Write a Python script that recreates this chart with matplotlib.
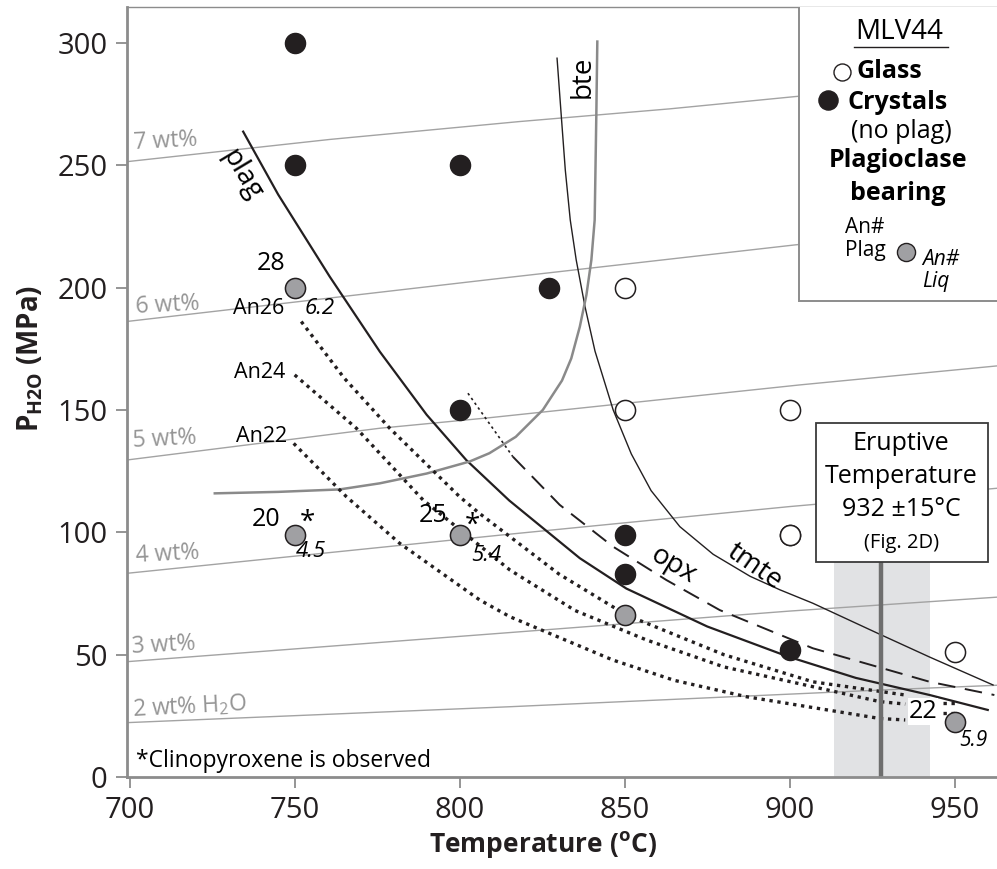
import matplotlib
matplotlib.use("Agg")
import matplotlib.pyplot as plt
from matplotlib.patches import Rectangle

plt.rcParams['font.family'] = ['Open Sans', 'DejaVu Sans']
plt.rcParams['mathtext.fontset'] = 'custom'
plt.rcParams['mathtext.rm'] = 'Open Sans'
plt.rcParams['mathtext.it'] = 'Open Sans:italic'
plt.rcParams['mathtext.bf'] = 'Open Sans:bold'

# ---------------- data ----------------
x_ticks = [700, 750, 800, 850, 900, 950]
y_ticks = [0, 50, 100, 150, 200, 250, 300]

# water isopleths (T, P)
iso_labels = ["7 wt%", "6 wt%", "5 wt%", "4 wt%", "3 wt%", "2 wt% H$_2$O"]
iso_T = [
    [699, 760.6, 818, 863.6, 901.5, 963],
    [699, 810, 901.5, 963],
    [699, 775.8, 809, 903, 963],
    [699, 815, 900, 963],
    [699, 815, 900, 963],
    [699, 815, 927, 963],
]
iso_P = [
    [251.4, 260.5, 267.8, 273.0, 278.0, 286.0],
    [186.1, 203.4, 217.4, 226.0],
    [129.5, 142.5, 146.8, 160.2, 168.0],
    [83.2, 99.2, 110.5, 118.0],
    [47.1, 59.0, 67.8, 73.5],
    [22.2, 28.7, 35.5, 37.5],
]

# phase boundaries
plag_T = [734.4, 745, 760.6, 775.8, 790, 802, 815, 836.4, 850.5, 875, 899.5, 920, 942.4, 960]
plag_P = [263.7, 238, 204.5, 173.8, 148, 129.5, 113, 89.4, 77.0, 61.5, 49.2, 40.5, 33.5, 27.4]

tmte_T = [829.5, 830.8, 832, 833.5, 835.3, 838, 841, 846.5, 852, 858, 866.7, 876.8, 888, 897, 907, 927, 942.4, 961.6]
tmte_P = [293.7, 269.8, 248, 227.6, 211.3, 192, 174, 150.0, 132, 117, 102.3, 91.0, 82.0, 76.5, 71.0, 58.5, 49.0, 37.6]

bte_T = [725.8, 745, 763.6, 775.8, 790, 803, 809, 817, 825.2, 831, 833.8, 836.4, 838.4, 839.9, 840.9, 841.4, 841.7]
bte_P = [115.9, 116.5, 117.5, 120.0, 124, 128.9, 132.3, 139, 150.0, 162, 171, 184.0, 197, 211.3, 227.6, 270.5, 300.5]

opx_start_T = [802.5, 816.1]
opx_start_P = [156.8, 130.9]
opx_T = [816.1, 830.3, 846.5, 862.6, 878.8, 907, 942.4, 962]
opx_P = [130.9, 111.2, 94.1, 80.5, 68.2, 52.6, 38.9, 33.5]

an26_T = [752, 765, 778.8, 800, 806, 830, 850.5, 880, 907, 935]
an26_P = [186.1, 163, 142.5, 114.5, 107.7, 83, 66.2, 50, 38.9, 33.5]
an24_T = [750, 768.7, 788.9, 815.2, 835, 856.6, 880, 907, 927.3, 935]
an24_P = [164.3, 142.5, 113.2, 84.6, 68, 56.0, 45, 36.9, 30.8, 29.8]
an22_T = [749.7, 765.7, 781.8, 806, 815.2, 846.4, 865, 886.9, 927.3, 935]
an22_P = [136.3, 114.5, 95.5, 72.4, 65.5, 47.8, 39.5, 32.8, 23.9, 23.3]
an_tail_T = [[946.5, 950.5], [946.5, 950.5]]
an_tail_P = [[30.2, 30.2], [26.0, 26.0]]

# experiments
glass_T = [850, 850, 900, 900, 900, 950]
glass_P = [200, 150, 150, 99, 99, 51.2]
cryst_T = [750, 750, 800, 827, 800, 850, 850, 900]
cryst_P = [300, 250, 250, 200, 150, 99, 83, 52]
plagb_T = [750, 750, 800, 850, 950]
plagb_P = [200, 99, 99, 66, 22.6]

# eruptive temperature
erupt_T = 927.7
erupt_lo = 913.4
erupt_hi = 942.4

# ---------------- figure ----------------
fig = plt.figure(figsize=(9.97, 8.69), dpi=100)
ax = fig.add_axes([127 / 997, 92 / 869, 870 / 997, 769.7 / 869])
ax.set_xlim(699.2, 962.8)
ax.set_ylim(0, 314.5)

ISO = '#a3a3a3'

# eruptive band + line
box_bot = 88
ax.add_patch(Rectangle((erupt_lo, 0), erupt_hi - erupt_lo, box_bot, facecolor='#e1e2e4',
                       edgecolor='none', zorder=0.5))
ax.plot([erupt_T, erupt_T], [0, box_bot], color='#6e6e6e', lw=3.2, zorder=2.5, solid_capstyle='butt')

# isopleths
for T, P in zip(iso_T, iso_P):
    ax.plot(T, P, color=ISO, lw=1.0, zorder=1)

iso_lab_pos = [(701.0, 259.6), (701.5, 192.9), (700.8, 138.0), (701.5, 91.1), (700.5, 53.7), (700.5, 28.7)]
for lab, (tx, ty) in zip(iso_labels, iso_lab_pos):
    ax.text(tx, ty, lab, color='#959595', fontsize=16.5, ha='left', va='center', rotation=3, zorder=1.5)

# curves
ax.plot(plag_T, plag_P, color='#231f20', lw=1.6, zorder=2)
ax.plot(tmte_T, tmte_P, color='#231f20', lw=1.0, zorder=2)
ax.plot(bte_T, bte_P, color='#8a8a8a', lw=1.8, zorder=2)
ax.plot(opx_start_T, opx_start_P, color='#231f20', lw=1.2, linestyle=(0, (1.5, 2.0)), zorder=2)
ax.plot(opx_T, opx_P, color='#231f20', lw=1.4, linestyle=(0, (9, 5)), zorder=2)

dot = (0, (1.0, 1.4))
for T, P in [(an26_T, an26_P), (an24_T, an24_P), (an22_T, an22_P)]:
    ax.plot(T, P, color='#231f20', lw=2.4, linestyle=dot, dash_capstyle='butt', zorder=2)
for T, P in zip(an_tail_T, an_tail_P):
    ax.plot(T, P, color='#231f20', lw=2.4, linestyle=dot, dash_capstyle='butt', zorder=2)

# points
ms = 210
ax.scatter(glass_T, glass_P, s=ms, facecolor='white', edgecolor='#231f20', linewidth=1.1, zorder=3)
ax.scatter(cryst_T, cryst_P, s=ms, facecolor='#231f20', edgecolor='#231f20', linewidth=1.0, zorder=3)
ax.scatter(plagb_T, plagb_P, s=ms, facecolor='#a0a0a3', edgecolor='#231f20', linewidth=1.1, zorder=3)

# curve labels
ax.text(734.0, 246.0, 'plag', fontsize=20, rotation=-59, ha='center', va='center', rotation_mode='anchor', zorder=4)
ax.text(837.4, 286.0, 'bte', fontsize=20, rotation=90, ha='center', va='center', rotation_mode='anchor', zorder=4)
ax.text(864.6, 86.6, 'opx', fontsize=20, rotation=-31, ha='center', va='center', rotation_mode='anchor', zorder=4)
ax.text(889.4, 85.9, 'tmte', fontsize=20, rotation=-35, ha='center', va='center', rotation_mode='anchor', zorder=4)

# point labels
ax.text(742.9, 210.0, '28', fontsize=18, ha='center', va='center', zorder=4)
ax.text(739.0, 191.5, 'An26', fontsize=15.5, ha='center', va='center', zorder=4)
ax.text(757.5, 191.5, '6.2', fontsize=16, style='italic', ha='center', va='center', zorder=4)
ax.text(739.4, 165.2, 'An24', fontsize=15.5, ha='center', va='center', zorder=4)
ax.text(739.9, 139.0, 'An22', fontsize=15.5, ha='center', va='center', zorder=4)
ax.text(741.4, 105.3, '20', fontsize=18, ha='center', va='center', zorder=4)
ax.text(754.0, 104.0, '*', fontsize=20, ha='center', va='center', zorder=4)
ax.text(755.0, 92.0, '4.5', fontsize=16, style='italic', ha='center', va='center', zorder=4)
ax.text(791.9, 107.0, '25', fontsize=18, ha='center', va='center', zorder=4)
ax.text(804.0, 102.5, '*', fontsize=20, ha='center', va='center', zorder=4)
ax.text(808.0, 90.7, '5.4', fontsize=16, style='italic', ha='center', va='center', zorder=4)
ax.text(940.4, 26.7, '22', fontsize=18, ha='center', va='center', zorder=4,
        bbox=dict(facecolor='white', edgecolor='none', pad=0.5))
ax.text(955.5, 15.1, '5.9', fontsize=15, style='italic', ha='center', va='center', zorder=4)
ax.text(702.0, 6.5, '*Clinopyroxene is observed', fontsize=16.5, ha='left', va='center', zorder=4)

# eruptive box
ax.add_patch(Rectangle((907.9, 88.0), 52.2, 56.5, facecolor='white', edgecolor='#3a3a3a', lw=1.3, zorder=4))
ax.text(933.8, 136.4, 'Eruptive', fontsize=18, ha='center', va='center', zorder=5)
ax.text(933.8, 122.7, 'Temperature', fontsize=18, ha='center', va='center', zorder=5)
ax.text(933.8, 109.1, '932 \u00b115\u00b0C', fontsize=18, ha='center', va='center', zorder=5)
ax.text(933.8, 95.5, '(Fig. 2D)', fontsize=14.5, ha='center', va='center', zorder=5)

# legend box
ax.add_patch(Rectangle((902.7, 194.5), 70, 130, facecolor='white', edgecolor='#8c8c8c', lw=1.4,
                       zorder=4, clip_on=True))
ax.text(933.3, 304.6, 'MLV44', fontsize=20, ha='center', va='center', zorder=5)
ax.plot([919.5, 948.0], [298.4, 298.4], color='#231f20', lw=1.0, zorder=5)
ax.scatter([915.7], [288.2], s=150, facecolor='white', edgecolor='#231f20', linewidth=1.0, zorder=5)
ax.text(920.3, 288.2, 'Glass', fontsize=18, fontweight='bold', ha='left', va='center', zorder=5)
ax.scatter([911.6], [276.7], s=190, facecolor='#231f20', edgecolor='#231f20', zorder=5)
ax.text(917.4, 275.5, 'Crystals', fontsize=18, fontweight='bold', ha='left', va='center', zorder=5)
ax.text(933.8, 263.7, '(no plag)', fontsize=18, ha='center', va='center', zorder=5)
ax.text(932.8, 252.1, 'Plagioclase', fontsize=18, fontweight='bold', ha='center', va='center', zorder=5)
ax.text(932.8, 238.5, 'bearing', fontsize=18, fontweight='bold', ha='center', va='center', zorder=5)
ax.text(916.7, 224.5, 'An#', fontsize=15, ha='left', va='center', zorder=5)
ax.text(916.7, 215.0, 'Plag', fontsize=15, ha='left', va='center', zorder=5)
ax.scatter([935.3], [214.5], s=170, facecolor='#a0a0a3', edgecolor='#231f20', linewidth=1.0, zorder=5)
ax.text(940.2, 211.5, 'An#', fontsize=15, style='italic', ha='left', va='center', zorder=5)
ax.text(940.2, 202.5, 'Liq', fontsize=15, style='italic', ha='left', va='center', zorder=5)

# axes styling
ax.set_xticks(x_ticks)
ax.set_yticks(y_ticks)
ax.tick_params(axis='both', which='major', length=8, width=1.3, color='#8c8c8c', labelsize=21, pad=6,
               labelcolor='#231f20')
for side in ['left', 'bottom']:
    ax.spines[side].set_color('#8c8c8c')
    ax.spines[side].set_linewidth(2.0)
ax.spines['top'].set_color('#8c8c8c')
ax.spines['top'].set_linewidth(1.0)
ax.spines['right'].set_visible(False)

fig.text(0.5452, 0.028, r'Temperature ($\mathbf{^{o}}$C)', fontsize=19, fontweight='bold',
         ha='center', va='center', color='#231f20')
fig.text(0.030, 0.588, r'$\mathbf{P_{H2O}}$ (MPa)', fontsize=20, fontweight='bold',
         ha='center', va='center', rotation=90, color='#231f20')

fig.savefig('out.png', dpi=100)
